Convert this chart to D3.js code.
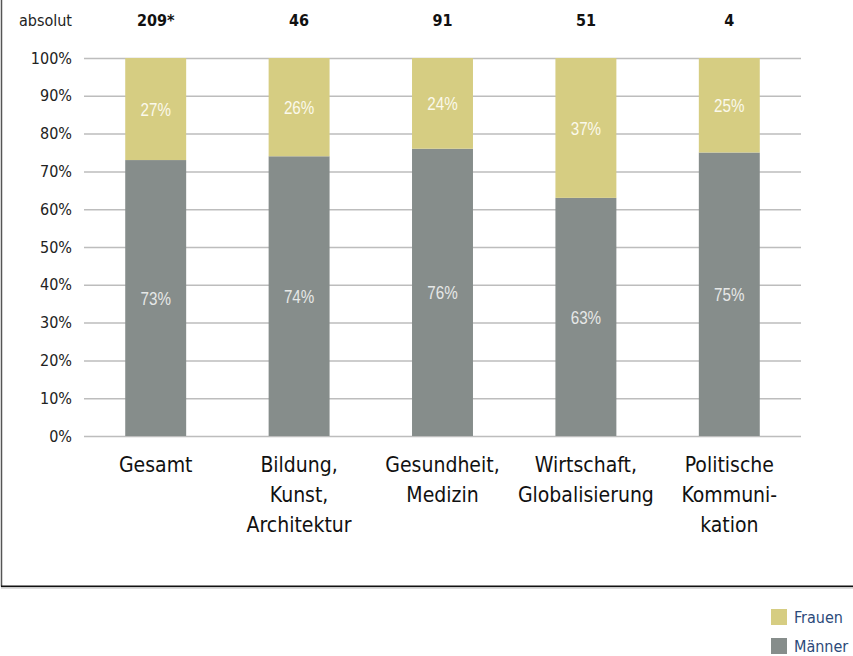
<!DOCTYPE html>
<html>
<head>
<meta charset="utf-8">
<script src="https://cdn.jsdelivr.net/npm/d3@7"></script>
<style>
  html, body { margin: 0; padding: 0; background: #fff; }
  svg { display: block; }
  text { font-family: 'DejaVu Sans Condensed', 'DejaVu Sans', sans-serif; font-stretch: condensed; }
  text.narrow { font-family: 'Liberation Sans', Arial, sans-serif; font-stretch: normal; }
</style>
</head>
<body>
<svg id="chart" width="853" height="656"></svg>
<script>
const categories = [["Gesamt"], ["Bildung,", "Kunst,", "Architektur"], ["Gesundheit,", "Medizin"], ["Wirtschaft,", "Globalisierung"], ["Politische", "Kommuni-", "kation"]];
const absolut = ["209*", "46", "91", "51", "4"];
const maenner = [73, 74, 76, 63, 75];
const frauen = [27, 26, 24, 37, 25];
const yTicks = [0, 10, 20, 30, 40, 50, 60, 70, 80, 90, 100];
const seriesNames = ["Frauen", "Männer"];
const colors = { Frauen: "#d6cd82", Männer: "#868d8b" };

const svg = d3.select("#chart");
const plotL = 84, plotR = 801, plotT = 58, plotB = 436;

const x = d3.scaleBand().domain(d3.range(categories.length)).range([plotL, plotR]).paddingInner(0.575).paddingOuter(0.2875);
const y = d3.scaleLinear().domain([0, 100]).range([plotB, plotT]);

// frame
svg.append("line").attr("x1", 1.5).attr("x2", 1.5).attr("y1", 0).attr("y2", 586.5).attr("stroke", "#555").attr("stroke-width", 1.5);
svg.append("line").attr("x1", 1).attr("x2", 853).attr("y1", 587.8).attr("y2", 587.8).attr("stroke", "#bbb").attr("stroke-width", 1.2);
svg.append("line").attr("x1", 1).attr("x2", 853).attr("y1", 586.3).attr("y2", 586.3).attr("stroke", "#111").attr("stroke-width", 1.5);

// gridlines
const yAxis = d3.axisLeft(y).tickValues(yTicks).tickFormat(d => d + "%").tickSize(-(plotR - plotL)).tickPadding(12);
const gy = svg.append("g").attr("transform", `translate(${plotL},0)`).call(yAxis);
gy.select(".domain").remove();
gy.selectAll(".tick line").attr("stroke", "#bdbdbd").attr("stroke-width", 1.5);
gy.selectAll(".tick text").attr("font-size", 16).attr("fill", "#222");
gy.attr("font-family", null).attr("font-size", null);

// stacked bars
const data = categories.map((c, i) => ({ i, Männer: maenner[i], Frauen: frauen[i] }));
const stack = d3.stack().keys(["Männer", "Frauen"]);
const layers = stack(data);

layers.forEach(layer => {
  const key = layer.key;
  const g = svg.append("g");
  g.selectAll("rect").data(layer).join("rect")
    .attr("x", d => x(d.data.i))
    .attr("width", x.bandwidth())
    .attr("y", d => y(d[1]))
    .attr("height", d => y(d[0]) - y(d[1]))
    .attr("fill", colors[key]);
  g.selectAll("text").data(layer).join("text")
    .attr("class", "narrow")
    .attr("transform", d => `translate(${x(d.data.i) + x.bandwidth() / 2},${(y(d[0]) + y(d[1])) / 2}) scale(0.8,1)`)
    .attr("dy", "0.36em")
    .attr("text-anchor", "middle")
    .attr("font-size", 19)
    .attr("fill", key === "Frauen" ? "#fbf9ec" : "#e6e8e7")
    .text(d => d.data[key] + "%");
});

// top labels
svg.append("text").attr("x", 72).attr("y", 26).attr("text-anchor", "end").attr("font-size", 16).attr("fill", "#222").text("absolut");
svg.append("g").selectAll("text").data(absolut).join("text")
  .attr("x", (d, i) => x(i) + x.bandwidth() / 2)
  .attr("y", 26)
  .attr("text-anchor", "middle")
  .attr("font-size", 16)
  .attr("font-weight", "bold")
  .attr("fill", "#111")
  .text(d => d);

// category labels
const cg = svg.append("g").selectAll("text").data(categories).join("text")
  .attr("x", (d, i) => x(i) + x.bandwidth() / 2)
  .attr("y", 472)
  .attr("text-anchor", "middle")
  .attr("font-size", 21)
  .attr("fill", "#111");
cg.each(function(lines, i) {
  d3.select(this).selectAll("tspan").data(lines).join("tspan")
    .attr("x", x(i) + x.bandwidth() / 2)
    .attr("dy", (d, j) => j === 0 ? 0 : 30)
    .text(d => d);
});

// legend
const lg = svg.append("g").selectAll("g").data(seriesNames).join("g")
  .attr("transform", (d, i) => `translate(771,${609 + i * 29})`);
lg.append("rect").attr("width", 16).attr("height", 16).attr("fill", d => colors[d]);
lg.append("text").attr("x", 23).attr("y", 14).attr("font-size", 16).attr("fill", "#2c4a7a").text(d => d);
</script>
</body>
</html>
